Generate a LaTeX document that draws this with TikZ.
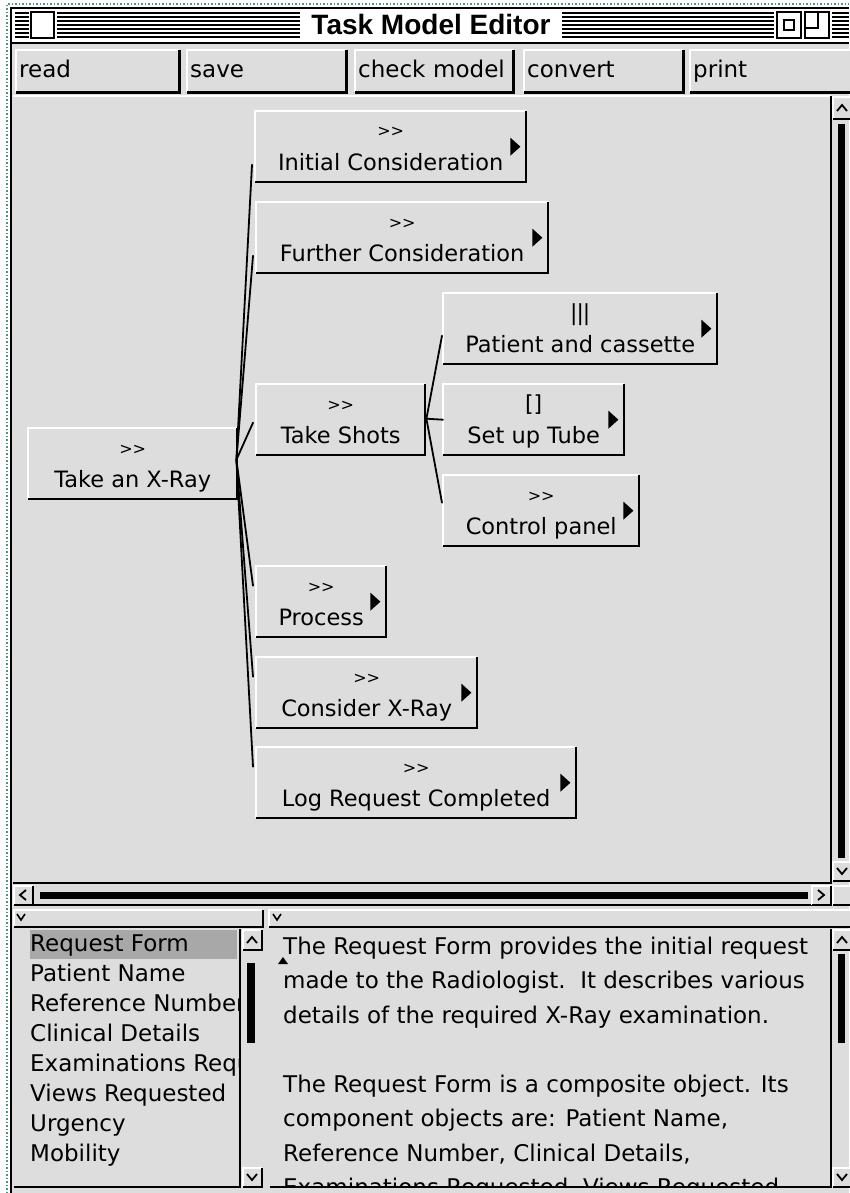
\documentclass[tikz,border=0pt]{standalone}
\usepackage{fontspec}
\setmainfont{DejaVu Sans}
\newfontfamily\titlefont{Liberation Sans}
\usetikzlibrary{calc}
\definecolor{winbg}{RGB}{221,221,221}
\definecolor{selbg}{RGB}{168,168,168}
\definecolor{framegreen}{RGB}{70,150,130}
\newcommand\uibevel[4]{%
  \fill[winbg] (#1,#2) rectangle (#3,#4);
  \draw[white,line width=2pt] (#1,#4) -- (#1,#2) -- (#3,#2);
  \draw[black,line width=2pt] (#1,#4) -- (#3,#4) -- (#3,#2);}
\newcommand\chevup[2]{\draw[line width=1.8pt] (#1-5,#2+3) -- (#1,#2-3) -- (#1+5,#2+3);}
\newcommand\chevdown[2]{\draw[line width=1.8pt] (#1-5,#2-3) -- (#1,#2+3) -- (#1+5,#2-3);}
\newcommand\chevleft[2]{\draw[line width=1.8pt] (#1+3,#2-5) -- (#1-3,#2) -- (#1+3,#2+5);}
\newcommand\chevright[2]{\draw[line width=1.8pt] (#1-3,#2-5) -- (#1+3,#2) -- (#1-3,#2+5);}
\newcommand\seqsym{>\kern0pt>}
\tikzset{
  uitext/.style={font=\fontsize{23}{23}\selectfont, inner sep=0pt, anchor=base west},
  btn/.style={anchor=north west, fill=winbg, minimum height=42pt, inner xsep=3pt,
    inner ysep=0pt, align=left, text width=#1, font=\fontsize{23}{23}\selectfont,
    text height=17pt, text depth=5pt},
  task/.style={anchor=north west, fill=winbg, inner sep=0pt, minimum height=71pt,
    minimum width=#1, text height=47pt, text depth=0pt, font=\fontsize{22.5}{22.5}\selectfont},
  tsym/.style={anchor=base, inner sep=0pt, font=\fontsize{16}{16}\selectfont},
  tsymbig/.style={anchor=base, inner sep=0pt, font=\fontsize{22}{22}\selectfont},
  link/.style={line width=1.8pt, line cap=round},
}
\begin{document}
\begin{tikzpicture}[x=1pt,y=-1pt]
\useasboundingbox (0,0) rectangle (849,1193);
\fill[white] (0,0) rectangle (849,1193);
\fill[winbg] (12,44) rectangle (849,1193);
% window frame
\draw[framegreen, dotted, line width=1.5pt] (7,1193) -- (7,4) -- (849,4);
\draw[black, line width=2pt] (11,1193) -- (11,8) -- (849,8);
% title bar
\fill[white] (12,9) rectangle (849,43);
\draw[black, line width=2pt] (12,43) -- (849,43);
\foreach \k in {0,...,6} {
  \draw[line width=1.3pt] (15,13+4*\k) -- (29,13+4*\k);
  \draw[line width=1.3pt] (57,13+4*\k) -- (300,13+4*\k);
  \draw[line width=1.3pt] (562,13+4*\k) -- (774,13+4*\k);
  \draw[line width=1.3pt] (832,13+4*\k) -- (849,13+4*\k);
}
\filldraw[fill=white, line width=2pt] (31,12) rectangle (54,38);
\filldraw[fill=white, line width=2pt] (777,12) rectangle (801,38);
\draw[line width=1.8pt] (784,20) rectangle (794,30);
\filldraw[fill=white, line width=2pt] (805,12) rectangle (829,38);
\draw[line width=1.8pt] (805,28) -- (818,28) -- (818,12);
\node[font=\titlefont\bfseries\fontsize{28}{28}\selectfont, inner sep=0pt, anchor=base, fill=white, inner xsep=4pt]
  (title) at (431,35) {Task Model Editor};
% buttons
\node[btn=157pt] (bread) at (16,50) {read};
\node[btn=153pt] (bsave) at (187,50) {save};
\node[btn=152pt] (bcheck) at (355,50) {check model};
\node[btn=153pt] (bconv) at (524,50) {convert};
\node[btn=156pt] (bprint) at (690,50) {print};
\foreach \n in {bread,bsave,bcheck,bconv,bprint} {
  \draw[white, line width=2pt] (\n.south west) |- (\n.north east);
  \draw[black, line width=3pt] (\n.south west) -| (\n.north east);
}
% canvas
\draw[white, line width=2pt] (13,96) -- (831,96);
\draw[black, line width=2pt] (831,96) -- (831,883) -- (13,883);
% vertical scrollbar of canvas
\uibevel{833}{97}{851}{119}
\chevup{842}{108}
\fill (838,124) rectangle (845,858);
\uibevel{833}{862}{851}{881}
\chevdown{842}{871}
% horizontal scrollbar
\uibevel{14}{886}{33}{905}
\chevleft{23}{895}
\fill (40,892) rectangle (808,899);
\draw[line width=2pt] (33,905) -- (812,905);
\uibevel{812}{886}{831}{905}
\chevright{821}{895}
\uibevel{833}{886}{851}{905}
% bottom headers
\uibevel{14}{910}{263}{927}
\draw[line width=1.6pt] (17,914) -- (21,920) -- (25,914);
\uibevel{269}{910}{851}{927}
\draw[line width=1.6pt] (273,914) -- (277,920) -- (281,914);
% list panel
\draw[black, line width=2pt] (14,1187) -- (240,1187) -- (240,929);
\fill[selbg] (30,930) rectangle (237,959);
\uibevel{243}{930}{262}{950}
\chevup{252}{940}
\fill (247,963) rectangle (255,1043);
\uibevel{243}{1168}{262}{1187}
\chevdown{252}{1177}
\begin{scope}
  \clip (14,929) rectangle (240,1186);
  \node[uitext] (l1) at (30,951) {Request Form};
  \node[uitext] (l2) at (30,981.1) {Patient Name};
  \node[uitext] (l3) at (30,1011.2) {Reference Number};
  \node[uitext] (l4) at (30,1041.3) {Clinical Details};
  \node[uitext] (l5) at (30,1071.4) {Examinations Requested};
  \node[uitext] (l6) at (30,1101.5) {Views Requested};
  \node[uitext] (l7) at (30,1131.6) {Urgency};
  \node[uitext] (l8) at (30,1161.7) {Mobility};
\end{scope}
% text panel
\draw[black, line width=2pt] (270,1187) -- (831,1187) -- (831,929);
\uibevel{833}{930}{851}{950}
\chevup{842}{940}
\fill (838,954) rectangle (845,1043);
\uibevel{833}{1168}{851}{1187}
\chevdown{842}{1177}
\fill (278,964) -- (283,957) -- (288,964) -- cycle;
\begin{scope}
  \clip (271,929) rectangle (830,1186);
  \node[uitext] (t1) at (283,954) {The Request Form provides the initial request};
  \node[uitext] (t2) at (283,988.5) {made to the Radiologist.\ \ It describes various};
  \node[uitext] (t3) at (283,1023) {details of the required X-Ray examination.};
  \node[uitext] (t5) at (283,1092) {The Request Form is a composite object. Its};
  \node[uitext] (t6) at (283,1126.5) {component objects are: Patient Name,};
  \node[uitext] (t7) at (283,1161) {Reference Number, Clinical Details,};
  \node[uitext] (t8) at (283,1195.5) {Examinations Requested, Views Requested};
\end{scope}
% task nodes
\node[task=209pt] (root) at (28,428) {Take an X-Ray};
\node[task=271pt] (ic) at (255,111) {Initial Consideration};
\node[task=292pt] (fc) at (256,202) {Further Consideration};
\node[task=169pt] (ts) at (256,384) {Take Shots};
\node[task=274pt] (pc) at (443,293) {Patient and cassette};
\node[task=181pt] (su) at (443,384) {Set up Tube};
\node[task=196pt] (cp) at (443,475) {Control panel};
\node[task=130pt] (pr) at (256,566) {Process};
\node[task=221pt] (cx) at (256,657) {Consider X-Ray};
\node[task=320pt] (lr) at (256,747) {Log Request Completed};
\foreach \n in {root,ic,fc,ts,pc,su,cp,pr,cx,lr} {
  \draw[white, line width=2pt] (\n.south west) |- (\n.north east);
  \draw[black, line width=2pt] (\n.south west) -| (\n.north east);
}
\foreach \n in {root,ic,fc,ts,cp,pr,cx,lr} {
  \node[tsym] (\n-s) at ($(\n.north)+(0,26)$) {\seqsym};
}
\node[tsymbig] (pc-s) at ($(pc.north)+(0,27)$) {|\kern-1pt|\kern-1pt|};
\node[tsymbig] (su-s) at ($(su.north)+(0,27)$) {[]};
\foreach \n in {ic,fc,pc,su,cp,pr,cx,lr} {
  \fill ($(\n.east)+(-16,-9)$) -- ++(0,18) -- ++(10,-9) -- cycle;
}
% connectors
\coordinate (hub) at ($(root.east)+(-1,-4)$);
\foreach \c in {ic,fc} { \draw[link] (hub) -- ($(\c.west)+(-3,18)$); }
\draw[link] (hub) -- ($(ts.west)+(-3,3)$);
\foreach \c in {pr,cx,lr} { \draw[link] (hub) -- ($(\c.west)+(-3,-16)$); }
\coordinate (tshub) at ($(ts.east)+(1,-1)$);
\draw[link] (tshub) -- ($(pc.west)+(-1,7)$);
\draw[link] (tshub) -- (su.west);
\draw[link] (tshub) -- ($(cp.west)+(-1,-8)$);
\end{tikzpicture}
\end{document}
